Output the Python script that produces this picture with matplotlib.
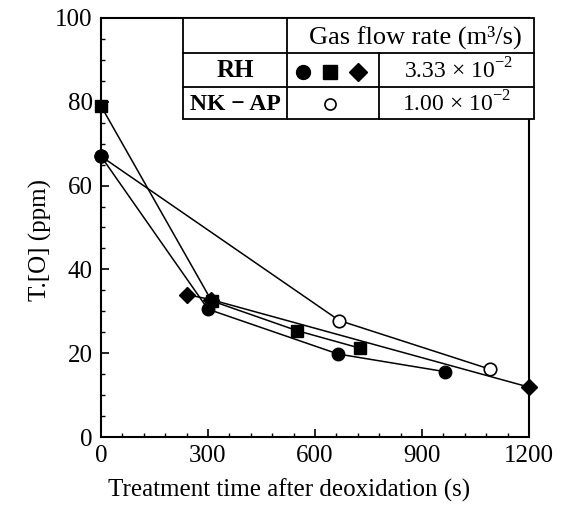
import numpy as np
import matplotlib
matplotlib.use("Agg")
import matplotlib.pyplot as plt
from matplotlib.lines import Line2D
from matplotlib.patches import Rectangle

plt.rcParams['font.family'] = ['Liberation Serif', 'DejaVu Serif']
plt.rcParams['mathtext.fontset'] = 'custom'
plt.rcParams['mathtext.rm'] = 'Liberation Serif'

# datos
t_circulo = [0, 300, 665, 964]
o_circulo = [67, 30.5, 19.8, 15.6]
t_cuadrado = [0, 310, 549, 726]
o_cuadrado = [79, 32.5, 25.4, 21.2]
t_rombo = [240, 308, 1200]
o_rombo = [34, 32.8, 11.9]
t_abierto = [0, 668, 1090]
o_abierto = [67, 27.8, 16.2]

x_ticks = [0, 300, 600, 900, 1200]
y_ticks = [0, 20, 40, 60, 80, 100]

W, H = 563, 513
fig = plt.figure(figsize=(W / 100, H / 100), dpi=100)
ax = fig.add_axes([101 / W, 1 - 437 / H, 428 / W, 419 / H])

lw = 1.1
ax.plot(t_rombo, o_rombo, '-', color='black', lw=lw, marker='D', ms=8, zorder=2, clip_on=False)
ax.plot(t_abierto, o_abierto, '-', color='black', lw=lw, marker='o', ms=9,
        mfc='white', mec='black', mew=1.2, zorder=2, clip_on=False)
ax.plot(t_circulo, o_circulo, '-', color='black', lw=lw, marker='o', ms=9, zorder=3, clip_on=False)
ax.plot(t_cuadrado, o_cuadrado, '-', color='black', lw=lw, marker='s', ms=9, zorder=3, clip_on=False)
# el circulo lleno en t=0 tapa el inicio de la serie abierta
ax.plot(t_circulo[:1], o_circulo[:1], 'o', color='black', ms=9, zorder=4, clip_on=False)

ax.set_xlim(0, 1200)
ax.set_ylim(0, 100)
ax.set_xticks(x_ticks)
ax.set_yticks(y_ticks)
ax.set_xticks(np.arange(0, 1201, 60), minor=True)
ax.set_yticks(np.arange(0, 101, 5), minor=True)
ax.tick_params(which='major', direction='in', length=6, width=1.2, labelsize=18, pad=6)
ax.tick_params(which='minor', direction='in', length=3, width=1.0)
for s in ax.spines.values():
    s.set_linewidth(1.5)

ax.set_xlabel("Treatment time after deoxidation (s)", fontsize=18)
ax.set_ylabel("T.[O] (ppm)", fontsize=18)
ax.xaxis.set_label_coords(0.44, -0.1)
ax.yaxis.set_label_coords(-0.115, 0.47)


# tabla de leyenda (coordenadas en pixeles de la figura)
def fx(x):
    return x / W


def fy(y):
    return 1 - y / H


x0, x1, x2, x3 = 183, 287, 379, 534
y0, y1, y2, y3 = 18, 53, 87, 119
fig.add_artist(Rectangle((fx(x0), fy(y3)), fx(x3) - fx(x0), fy(y0) - fy(y3),
                         transform=fig.transFigure, facecolor='white',
                         edgecolor='black', lw=1.3, zorder=5))
segs = [((x0, x3), (y1, y1)), ((x0, x3), (y2, y2)),
        ((x1, x1), (y0, y3)), ((x2, x2), (y1, y3))]
for xs, ys in segs:
    fig.add_artist(Line2D([fx(xs[0]), fx(xs[1])], [fy(ys[0]), fy(ys[1])],
                          transform=fig.transFigure, color='black', lw=1.3, zorder=6))

kw = dict(ha='center', va='center', zorder=7)
fig.text(fx(415), fy(37), "Gas flow rate (m³/s)", fontsize=19, **kw)
fig.text(fx((x0 + x1) / 2), fy(71), "RH", fontweight='bold', fontsize=18, **kw)
fig.text(fx((x0 + x1) / 2), fy(104), "NK \u2212 AP", fontweight='bold', fontsize=17, **kw)
fig.text(fx(459), fy(71), r"3.33 $\times$ 10$^{-2}$", fontsize=17, **kw)
fig.text(fx(457), fy(104), r"1.00 $\times$ 10$^{-2}$", fontsize=17, **kw)

# simbolos de la tabla
sym_y = fy(72)
for xp, m in [(303, 'o'), (330, 's'), (358, 'D')]:
    fig.add_artist(Line2D([fx(xp)], [sym_y], marker=m, ms=10 if m != 'D' else 9,
                          color='black', transform=fig.transFigure, zorder=7))
fig.add_artist(Line2D([fx(330)], [fy(104)], marker='o', ms=8, mfc='white', mec='black',
                      mew=1.2, transform=fig.transFigure, zorder=7))

fig.savefig("out.png", dpi=100)
